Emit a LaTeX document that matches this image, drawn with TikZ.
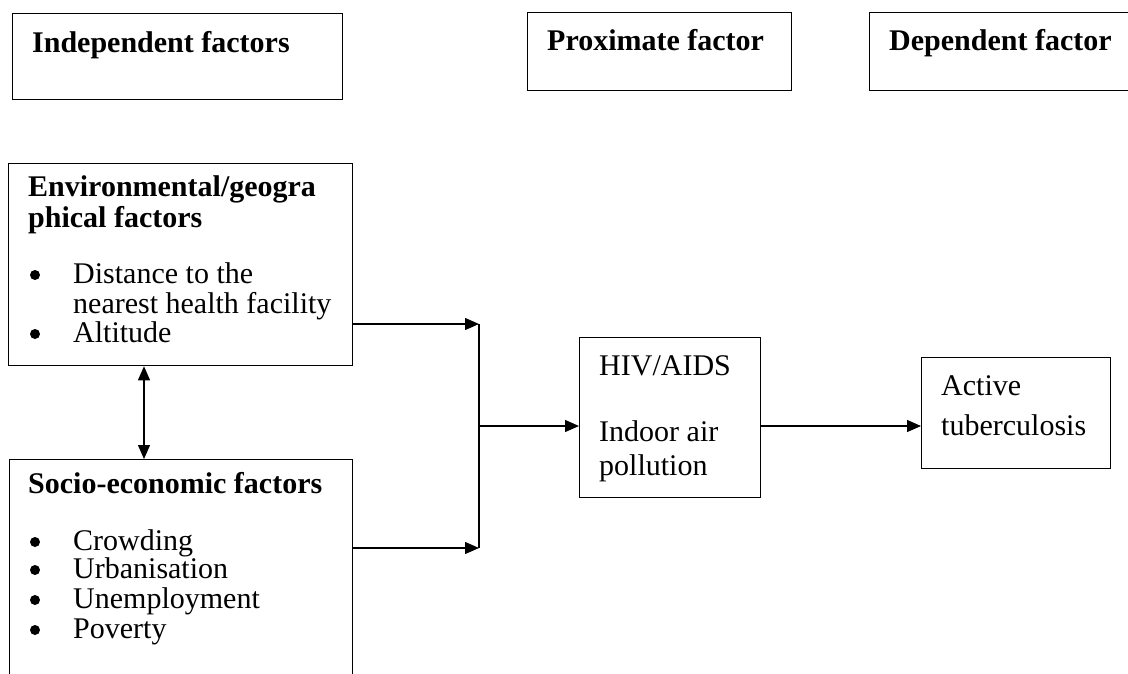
\documentclass[tikz,border=0pt]{standalone}
\usepackage{fontspec}
\setmainfont{Liberation Serif}
\usetikzlibrary{arrows.meta}
\begin{document}
\begin{tikzpicture}[x=1pt,y=-1pt,
  box/.style={draw, line width=1.3pt, rectangle, inner sep=0pt, anchor=north west},
  txt/.style={anchor=base west, inner sep=0pt, font=\fontsize{30}{34}\selectfont},
  hd/.style={anchor=base west, inner sep=0pt, font=\fontsize{30}{34}\selectfont\bfseries},
  dot/.style={circle, fill, inner sep=0pt, minimum size=10pt},
  line/.style={line width=1.3pt},
  conn/.style={line width=1.3pt, -{Triangle[length=14pt,width=12pt]}}]
\useasboundingbox (0,0) rectangle (1128,673);

% header boxes
\node[box, minimum width=330pt, minimum height=86pt] (indep) at (12,13) {};
\node[box, minimum width=264pt, minimum height=78pt] (prox) at (527,12) {};
\node[box, minimum width=300pt, minimum height=78pt] (dep) at (869,12) {};
\node[hd] (tindep) at (32,52) {Independent factors};
\node[hd] (tprox) at (547,50) {Proximate factor};
\node[hd] (tdep) at (889,50) {Dependent factor};

% environmental box
\node[box, minimum width=344pt, minimum height=202pt] (env) at (8,163) {};
\node[hd] (e1) at (28,196) {Environmental/geogra};
\node[hd] (e2) at (28,227) {phical factors};
\node[dot] (eb1) at (35,275) {};
\node[txt] (e3) at (73,283) {Distance to the};
\node[txt] (e4) at (73,313) {nearest health facility};
\node[dot] (eb2) at (35,334) {};
\node[txt] (e5) at (73,342) {Altitude};

% socio-economic box
\node[box, minimum width=343pt, minimum height=260pt] (socio) at (9,459) {};
\node[hd] (s1) at (28,493) {Socio-economic factors};
\node[dot] (sb1) at (35,542) {};
\node[txt] (s2) at (73,550) {Crowding};
\node[dot] (sb2) at (35,570) {};
\node[txt] (s3) at (73,578) {Urbanisation};
\node[dot] (sb3) at (35,600) {};
\node[txt] (s4) at (73,608) {Unemployment};
\node[dot] (sb4) at (35,630) {};
\node[txt] (s5) at (73,638) {Poverty};

% proximate box
\node[box, minimum width=181pt, minimum height=160pt] (hiv) at (579,337) {};
\node[txt] (h1) at (599,375) {HIV/AIDS};
\node[txt] (h2) at (599,441) {Indoor air};
\node[txt] (h3) at (599,475) {pollution};

% outcome box
\node[box, minimum width=189pt, minimum height=111pt] (active) at (921,357) {};
\node[txt] (a1) at (941,395) {Active};
\node[txt] (a2) at (941,435) {tuberculosis};

% connectors
\coordinate (j1) at (479,324);
\coordinate (j2) at (479,548);
\coordinate (jm) at (479,426);
\coordinate (m) at (840,426);
\coordinate (da) at (144,410);
\draw[conn] (env.east |- j1) -- (j1);
\draw[conn] (socio.east |- j2) -- (j2);
\draw[line] (j1) -- (j2);
\draw[conn] (jm) -- (hiv.west |- jm);
\draw[conn] (hiv.east |- m) -- (active.west |- m);
\draw[line, {Triangle[length=14pt,width=12pt]}-{Triangle[length=14pt,width=12pt]}] (env.south -| da) -- (socio.north -| da);
\end{tikzpicture}
\end{document}
